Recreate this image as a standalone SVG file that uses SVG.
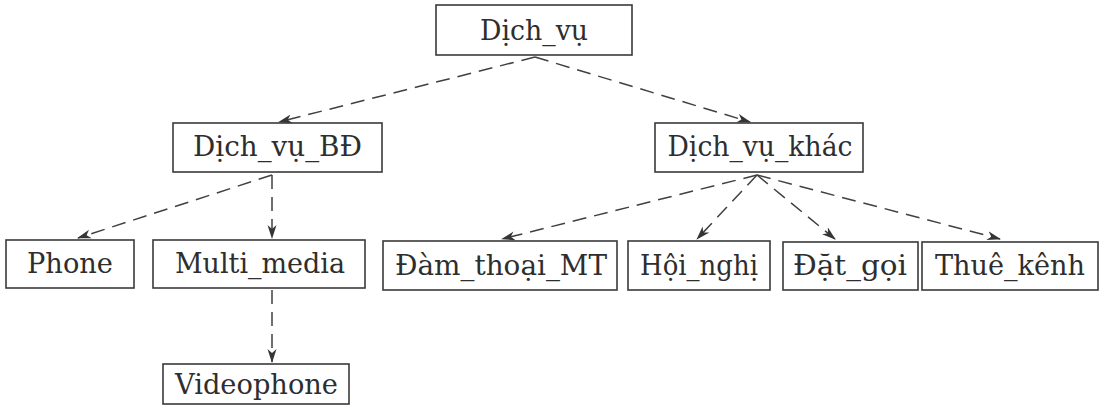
<svg xmlns="http://www.w3.org/2000/svg" width="1102" height="413" viewBox="0 0 1102 413">
<style>
.box{fill:#fff;stroke:#3a3a3a;stroke-width:1.6}
.t{font-family:"DejaVu Serif","Liberation Serif",serif;font-size:28px;fill:#2e2e2e;text-anchor:middle}
.c{fill:none;stroke:#404040;stroke-width:1.5;stroke-dasharray:14 8}
</style>
<defs>
<marker id="ah" markerUnits="userSpaceOnUse" markerWidth="14" markerHeight="10" viewBox="0 0 14 10" refX="13" refY="5" orient="auto">
<path d="M0,0.5 L14,5 L0,9.5 L4,5 z" fill="#353535"/>
</marker>
</defs>
<rect width="1102" height="413" fill="#fff"/>
<g id="connectors">
<path class="c" d="M535,57 L279,122" marker-end="url(#ah)"/>
<path class="c" d="M535,57 L750,122" marker-end="url(#ah)"/>
<path class="c" d="M272,175 L78,238" marker-end="url(#ah)"/>
<path class="c" d="M272,175 L272,238" marker-end="url(#ah)"/>
<path class="c" d="M272,290 L272,362" marker-end="url(#ah)"/>
<path class="c" d="M757,175 L502,239" marker-end="url(#ah)"/>
<path class="c" d="M757,175 L697,239" marker-end="url(#ah)"/>
<path class="c" d="M757,175 L835,239" marker-end="url(#ah)"/>
<path class="c" d="M757,175 L1000,239" marker-end="url(#ah)"/>
</g>
<g id="n-dichvu"><rect class="box" x="436" y="5" width="196" height="50"/><text class="t" x="534" y="40" textLength="108" lengthAdjust="spacingAndGlyphs">Dịch_vụ</text></g>
<g id="n-dichvu-bd"><rect class="box" x="173" y="123" width="209" height="49"/><text class="t" x="277.5" y="156" textLength="169" lengthAdjust="spacingAndGlyphs">Dịch_vụ_BĐ</text></g>
<g id="n-dichvu-khac"><rect class="box" x="655" y="123" width="208" height="49"/><text class="t" x="760" y="156" textLength="185" lengthAdjust="spacingAndGlyphs">Dịch_vụ_khác</text></g>
<g id="n-phone"><rect class="box" x="6" y="240" width="128" height="48"/><text class="t" x="70" y="273" textLength="86" lengthAdjust="spacingAndGlyphs">Phone</text></g>
<g id="n-multimedia"><rect class="box" x="153" y="240" width="212" height="48"/><text class="t" x="260" y="273" textLength="170" lengthAdjust="spacingAndGlyphs">Multi_media</text></g>
<g id="n-damthoai"><rect class="box" x="383" y="241" width="234" height="49"/><text class="t" x="501" y="275" textLength="212" lengthAdjust="spacingAndGlyphs">Đàm_thoại_MT</text></g>
<g id="n-hoinghi"><rect class="box" x="628" y="241" width="142" height="49"/><text class="t" x="699" y="275" textLength="118" lengthAdjust="spacingAndGlyphs">Hội_nghị</text></g>
<g id="n-datgoi"><rect class="box" x="783" y="242" width="135" height="48"/><text class="t" x="850" y="275" textLength="114" lengthAdjust="spacingAndGlyphs">Đặt_gọi</text></g>
<g id="n-thuekenh"><rect class="box" x="922" y="242" width="176" height="48"/><text class="t" x="1010" y="275" textLength="150" lengthAdjust="spacingAndGlyphs">Thuê_kênh</text></g>
<g id="n-videophone"><rect class="box" x="163" y="364" width="186" height="40"/><text class="t" x="256.5" y="394" textLength="163" lengthAdjust="spacingAndGlyphs">Videophone</text></g>
</svg>
